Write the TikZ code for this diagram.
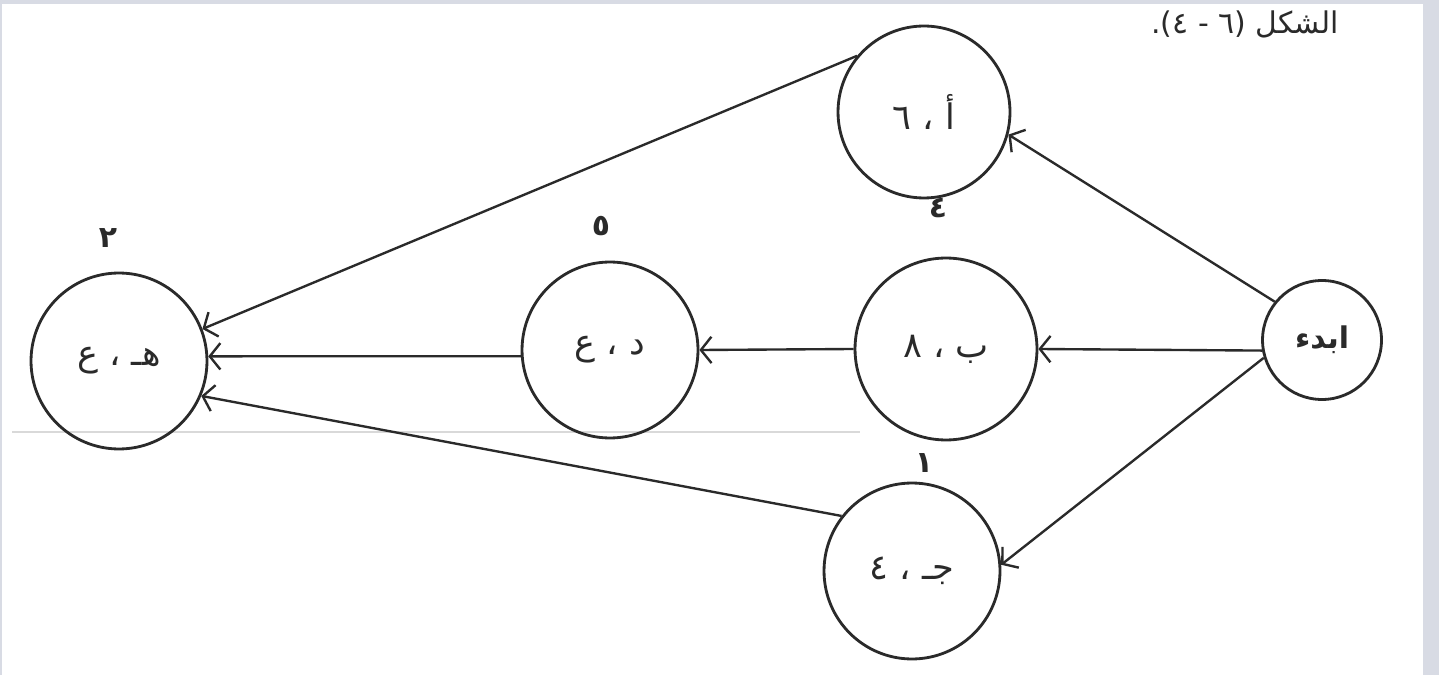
\documentclass[tikz,border=0pt]{standalone}
\usepackage{fontspec}
\usetikzlibrary{arrows.meta}
\TeXXeTstate=1
\newfontfamily\arabicfont[Script=Arabic]{DejaVu Sans}
\definecolor{framebg}{HTML}{D8DBE4}
\definecolor{ink}{HTML}{2A2A2A}
\begin{document}
\begin{tikzpicture}[x=0.02cm,y=-0.02cm,
  state/.style={circle,draw=ink,line width=1.6pt,inner sep=0pt,text=ink,
    font=\arabicfont\fontsize{20}{23}\selectfont},
  arc/.style={draw=ink,line width=1.35pt,-{Straight Barb[length=6pt,width=15pt,line width=1.35pt]}},
  num/.style={font=\arabicfont\bfseries\fontsize{17}{19}\selectfont,text=ink}]
\useasboundingbox (0,0) rectangle (1439,675);
\fill[framebg] (0,0) rectangle (1439,675);
\fill[white] (2,4) rectangle (1423,675);
% faint scan line
\draw[gray!30,line width=0.6pt] (12,432) -- (860,432);
% caption
\node[font=\arabicfont\fontsize{17}{19}\selectfont,text=ink,anchor=north] (cap) at (1245,5) {\beginR الشكل (٦ - ٤).\endR};
% nodes
\node[state,minimum size=3.44cm] (A) at (924,112) {\beginR أ ، ٦\endR};
\node[state,minimum size=3.64cm] (B) at (946,349) {\beginR ب ، ٨\endR};
\node[state,minimum size=3.52cm] (C) at (912,571) {\beginR جـ ، ٤\endR};
\node[state,minimum size=3.52cm] (D) at (610,350) {\beginR د ، ع\endR};
\node[state,minimum size=3.52cm] (E) at (119,361) {\beginR هـ ، ع\endR};
\node[state,minimum size=2.38cm,font=\arabicfont\bfseries\fontsize{17}{20}\selectfont] (S) at (1322,340) {\beginR ابدء\endR};
% numbers above nodes
\node[num] (lE) at (108,238) {٢};
\node[num] (lD) at (601,226) {٥};
\node[num] (lB) at (938,208) {٤};
\node[num] (lC) at (924,463) {١};
% connectors
\draw[arc] (S.141) -- (A.-15);
\draw[arc] (S.190) -- (B.0);
\draw[arc] (S.197) -- (C.4);
\draw[arc] (B.180) -- (D.0);
\draw[arc] (D.184) -- (E.3);
\draw[arc] (A.140) -- (E.21);
\draw[arc] (C.142) -- (E.-23);
\end{tikzpicture}
\end{document}
